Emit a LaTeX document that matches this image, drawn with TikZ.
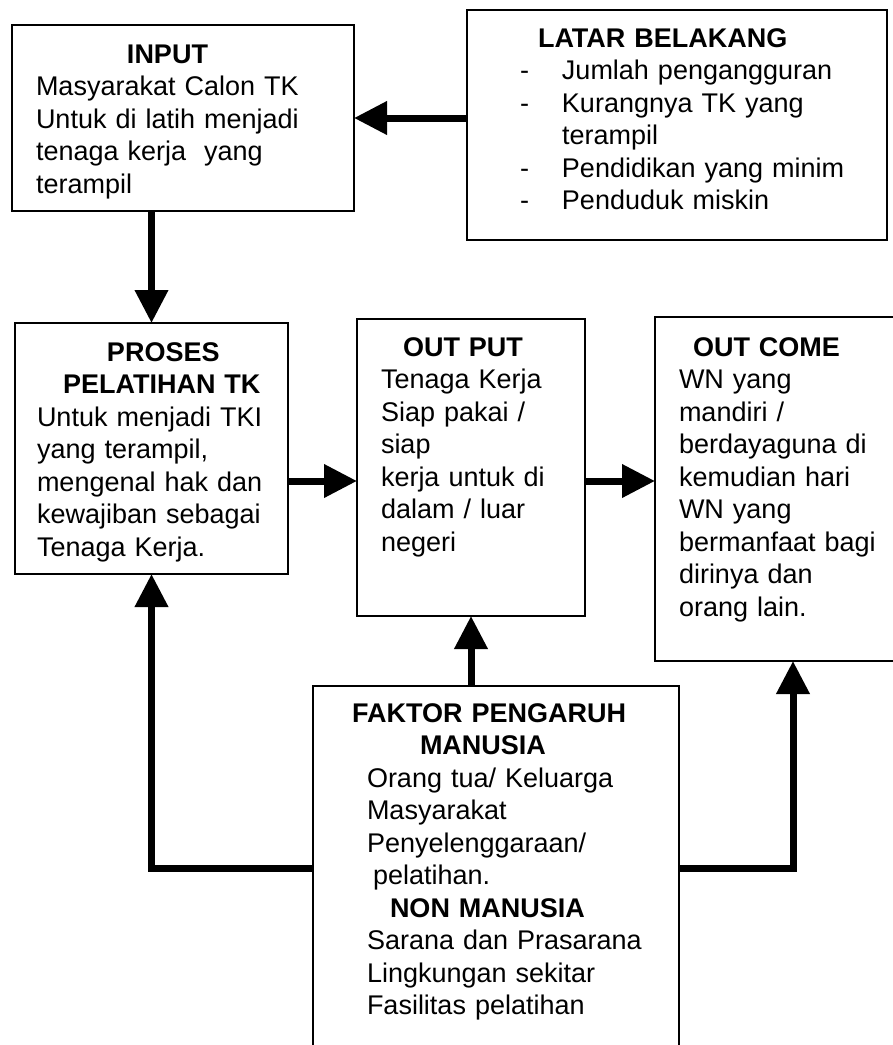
\documentclass[tikz,border=0pt]{standalone}
\usepackage{fontspec}
\setmainfont{Liberation Sans}
\usetikzlibrary{arrows.meta}
\tikzset{kotak/.style = {draw, line width=1.8pt, outer sep=0pt, anchor=north west, align=left, text height=23pt, font=\fontsize{27pt}{32.5pt}\selectfont}}
\tikzset{panah/.style = {line width=7pt, -{Triangle[length=33pt,width=32pt]}}}
\newcommand{\butir}{\hspace*{13pt}\makebox[42pt][l]{-}}

\begin{document}
\begin{tikzpicture}[x=1pt,y=-1pt]
    \useasboundingbox (0,0) rectangle (893,1045);
    \clip (0,0) rectangle (893,1045);
    % kotak-kotak
    \node [kotak, text width=294pt, inner xsep=24pt, inner ysep=15pt, text depth=133pt] (input) at (12,25)
        {\hspace*{91pt}\textbf{INPUT}\\ Masyarakat Calon TK\\ Untuk di latih menjadi\\ tenaga kerja \ yang\\ terampil};
    \node [kotak, text width=340pt, inner xsep=40pt, inner ysep=14pt, text depth=179pt] (latar) at (467,10)
        {\hspace*{31pt}\textbf{LATAR BELAKANG}\\ \butir Jumlah pengangguran\\ \butir Kurangnya TK yang\\ \hspace*{55pt}terampil\\ \butir Pendidikan yang minim\\ \butir Penduduk miskin};
    \node [kotak, text width=229pt, inner xsep=22pt, inner ysep=15pt, text depth=198pt] (proses) at (15,323)
        {\hspace*{70pt}\textbf{PROSES}\\ \hspace*{26pt}\textbf{PELATIHAN TK}\\ Untuk menjadi TKI\\ yang terampil,\\ mengenal hak dan\\ kewajiban sebagai\\ Tenaga Kerja.};
    \node [kotak, text width=180pt, inner xsep=24pt, inner ysep=14pt, text depth=246pt] (output) at (357,319)
        {\hspace*{22pt}\textbf{OUT PUT}\\ Tenaga Kerja\\ Siap pakai /\\ siap\\ kerja untuk di\\ dalam / luar\\ negeri};
    \node [kotak, text width=228pt, inner xsep=24pt, inner ysep=16pt, text depth=289pt] (outcome) at (655,317)
        {\hspace*{14pt}\textbf{OUT COME}\\ WN yang\\ mandiri /\\ berdayaguna di\\ kemudian hari\\ WN yang\\ bermanfaat bagi\\ dirinya dan\\ orang lain.};
    \node [kotak, text width=306pt, inner xsep=30pt, inner ysep=13pt, text depth=335pt] (faktor) at (313,686)
        {\hspace*{9pt}\textbf{FAKTOR PENGARUH}\\ \hspace*{77pt}\textbf{MANUSIA}\\ \hspace*{24pt}Orang tua/ Keluarga\\ \hspace*{24pt}Masyarakat\\ \hspace*{24pt}Penyelenggaraan/\\ \hspace*{30pt}pelatihan.\\ \hspace*{47pt}\textbf{NON MANUSIA}\\ \hspace*{24pt}Sarana dan Prasarana\\ \hspace*{24pt}Lingkungan sekitar\\ \hspace*{24pt}Fasilitas pelatihan};
    % panah
    \coordinate (p1) at ([yshift=-32.5pt]proses.east);
    \draw [panah] (latar.west |- input.east) -- (input.east);
    \draw [panah] (input.south -| proses.north) -- (proses.north);
    \draw [panah] (p1) -- (p1 -| output.west);
    \draw [panah] (p1 -| output.east) -- (p1 -| outcome.west);
    \draw [panah] (faktor.north -| output.south) -- (output.south);
    \draw [panah] ([yshift=-182pt]faktor.north west) -| (proses.south);
    \draw [panah] ([yshift=-182pt]faktor.north east) -| (outcome.south);
\end{tikzpicture}
\end{document}
